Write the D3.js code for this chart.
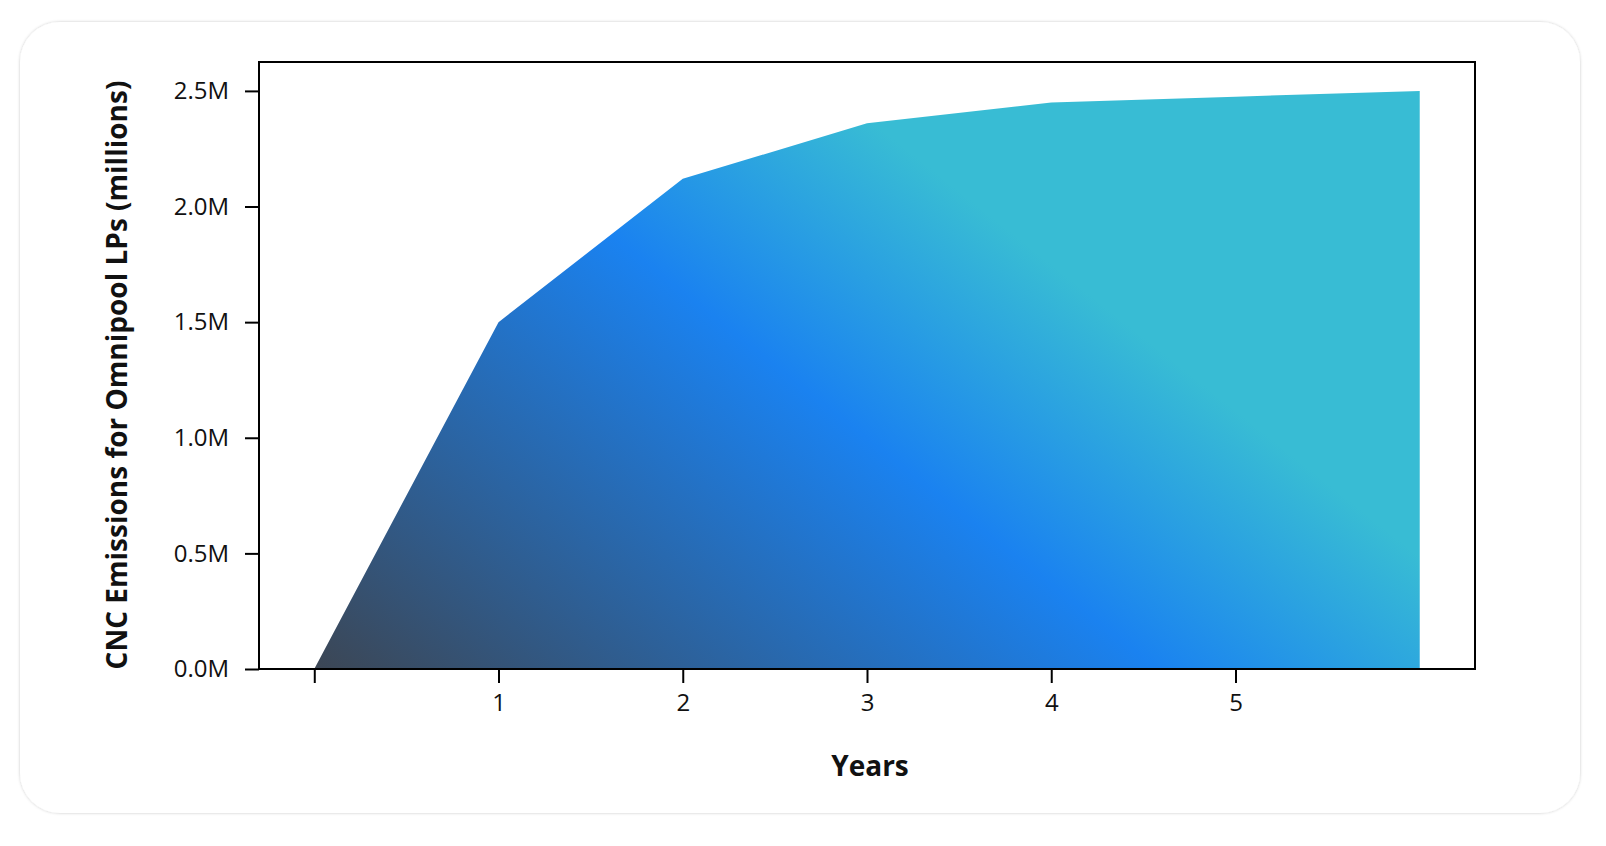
<!DOCTYPE html>
<html>
<head>
<meta charset="utf-8">
<script src="https://cdn.jsdelivr.net/npm/d3@7"></script>
<style>
  html, body { margin: 0; padding: 0; background: #fff; }
  body { width: 1606px; height: 846px; overflow: hidden; font-family: "Open Sans", sans-serif; }
</style>
</head>
<body>
<div id="chart"></div>
<script>
// values
var years = [0, 1, 2, 3, 4, 5, 6];
var emissions = [0, 1500000, 2120000, 2360000, 2450000, 2475000, 2500000];
var yTicks = [0, 500000, 1000000, 1500000, 2000000, 2500000];
var xTicks = [0, 1, 2, 3, 4, 5];
var xTickLabels = ["", "1", "2", "3", "4", "5"];

var W = 1606, H = 846;
var margin = { left: 259, right: 131, top: 62, bottom: 177 };

var svg = d3
  .select("#chart")
  .append("svg")
  .attr("width", W)
  .attr("height", H);

var defs = svg.append("defs");

// card shadow
var f = defs.append("filter").attr("id", "shadow")
  .attr("x", "-5%").attr("y", "-5%").attr("width", "110%").attr("height", "110%");
f.append("feDropShadow").attr("dx", 0).attr("dy", 0).attr("stdDeviation", 1.6)
  .attr("flood-color", "#000").attr("flood-opacity", 0.22);

svg.append("rect")
  .attr("x", 20).attr("y", 22)
  .attr("width", 1560).attr("height", 791)
  .attr("rx", 40).attr("ry", 40)
  .attr("fill", "#fff")
  .attr("filter", "url(#shadow)");

var x0 = margin.left, x1 = W - margin.right;
var y0 = H - margin.bottom, y1 = margin.top;

// 5% padding on x, 5% headroom on y
var xExt = d3.extent(years), xPad = (xExt[1] - xExt[0]) * 0.05;
var x = d3.scaleLinear().domain([xExt[0] - xPad, xExt[1] + xPad]).range([x0, x1]);
var y = d3.scaleLinear().domain([0, d3.max(emissions) * 1.05]).range([y0, y1]);

// gradient: bottom-left dark -> blue -> cyan towards the top right
var gx = x(years[0]), gy = y(0);
var ang = Math.atan2(1.26, 1), len = 1140;
var grad = defs.append("linearGradient").attr("id", "fillGrad")
  .attr("gradientUnits", "userSpaceOnUse")
  .attr("x1", gx).attr("y1", gy)
  .attr("x2", gx + len * Math.cos(ang)).attr("y2", gy - len * Math.sin(ang));
grad.append("stop").attr("offset", "0").attr("stop-color", "#3c4654");
grad.append("stop").attr("offset", "0.46").attr("stop-color", "#1a82f0");
grad.append("stop").attr("offset", "0.68").attr("stop-color", "#38bcd4");
grad.append("stop").attr("offset", "1").attr("stop-color", "#38bcd4");

var area = d3.area()
  .x(function(d, i) { return x(years[i]); })
  .y0(y(0))
  .y1(function(d) { return y(d); });

svg.append("path")
  .datum(emissions)
  .attr("d", area)
  .attr("fill", "url(#fillGrad)");

// frame
svg.append("rect")
  .attr("x", x0).attr("y", y1)
  .attr("width", x1 - x0).attr("height", y0 - y1)
  .attr("fill", "none")
  .attr("stroke", "#000")
  .attr("stroke-width", 2);

// y axis
var yAxis = d3.axisLeft(y)
  .tickValues(yTicks)
  .tickSize(14)
  .tickPadding(16)
  .tickFormat(function(d) { return d3.format(".1f")(d / 1e6) + "M"; });

var gy_ = svg.append("g").attr("transform", "translate(" + x0 + ",0)").call(yAxis);
gy_.select(".domain").remove();

// x axis
var xAxis = d3.axisBottom(x)
  .tickValues(xTicks)
  .tickSize(14)
  .tickPadding(11)
  .tickFormat(function(d, i) { return xTickLabels[i]; });

var gx_ = svg.append("g").attr("transform", "translate(0," + y0 + ")").call(xAxis);
gx_.select(".domain").remove();

svg.selectAll(".tick line").attr("stroke", "#000").attr("stroke-width", 2);
svg.selectAll(".tick text")
  .attr("fill", "#111")
  .style("font-family", "'Open Sans', sans-serif")
  .style("font-size", "24px");

// axis titles
svg.append("text")
  .attr("x", (x0 + x1) / 2 + 3)
  .attr("y", 766)
  .attr("dy", "0.35em")
  .attr("text-anchor", "middle")
  .style("font-family", "'Open Sans', sans-serif")
  .style("font-weight", "bold")
  .style("font-size", "28px")
  .attr("fill", "#111")
  .text("Years");

svg.append("text")
  .attr("transform", "translate(117," + 375 + ") rotate(-90)")
  .attr("dy", "0.35em")
  .attr("text-anchor", "middle")
  .style("font-family", "'Open Sans', sans-serif")
  .style("font-weight", "bold")
  .style("font-size", "28px")
  .attr("fill", "#111")
  .text("CNC Emissions for Omnipool LPs (millions)");
</script>
</body>
</html>
